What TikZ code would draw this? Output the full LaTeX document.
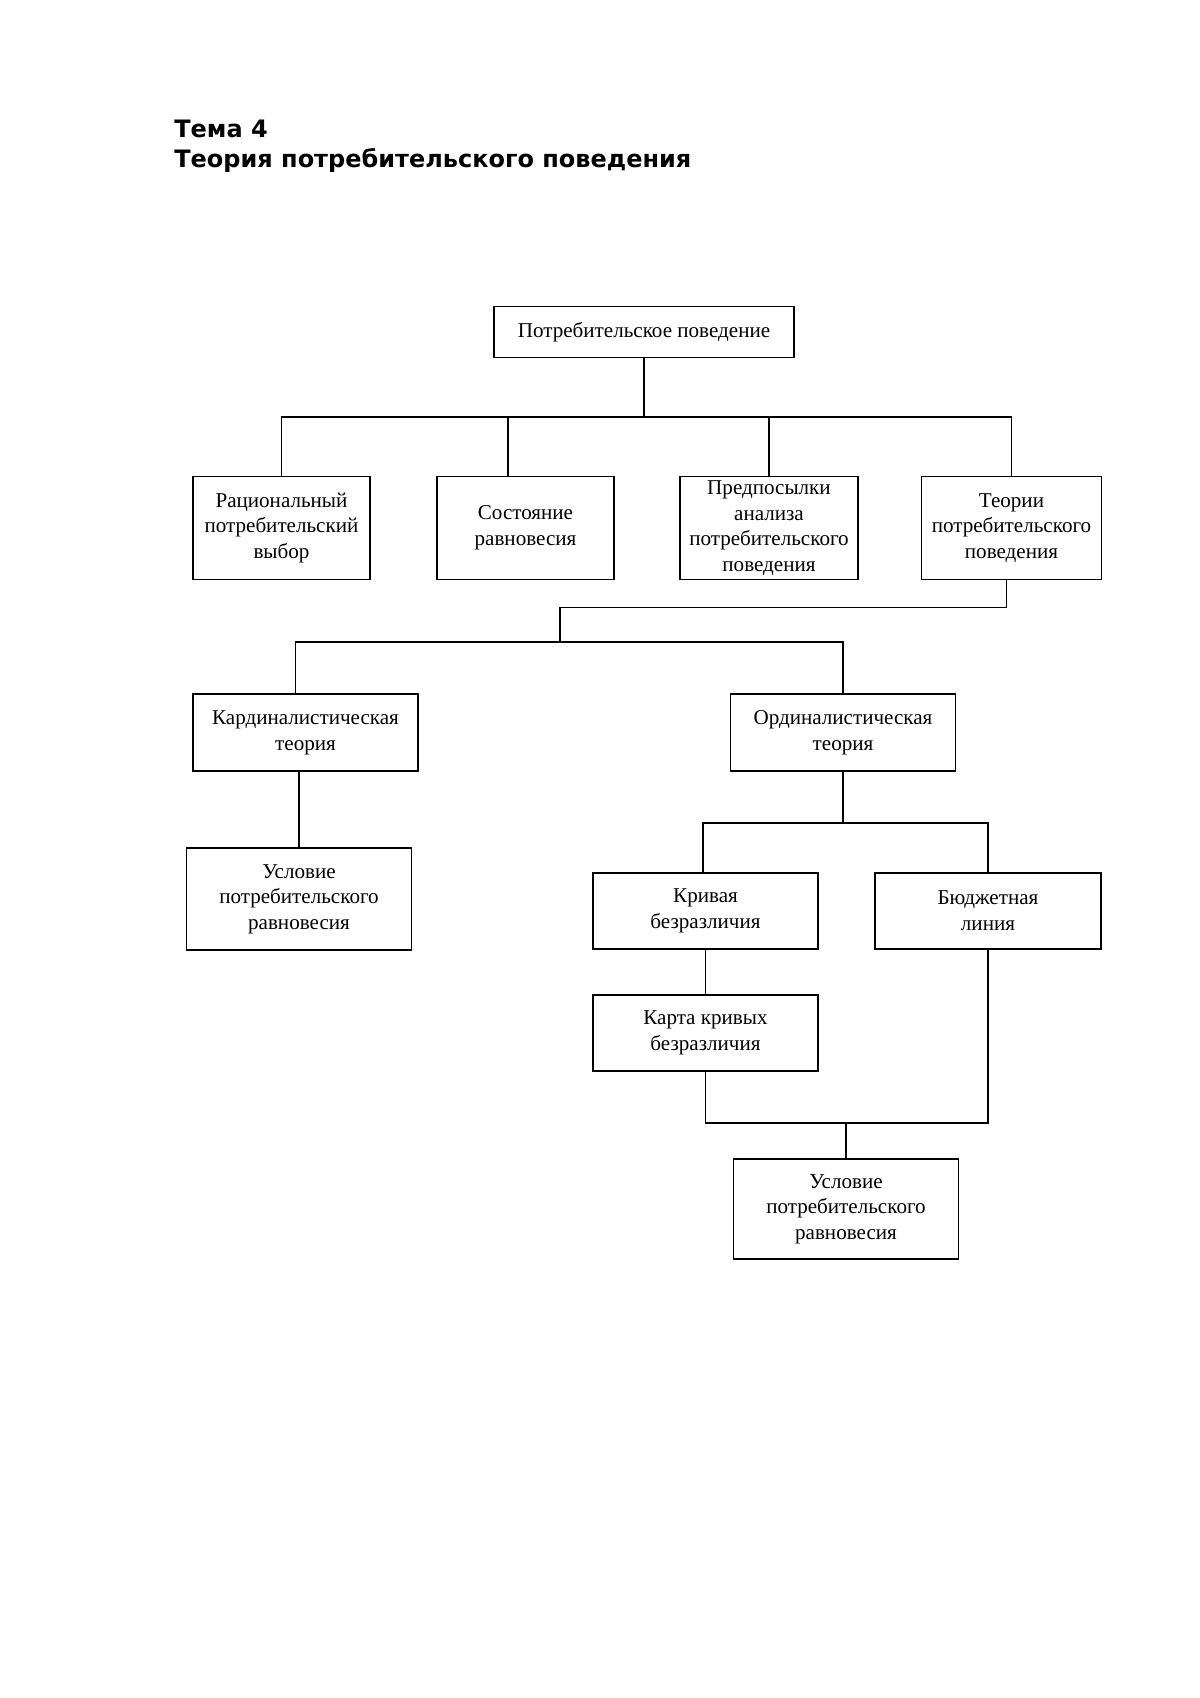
\documentclass[tikz,border=0pt]{standalone}
\usepackage{fontspec}
\setmainfont{Liberation Serif}
\newfontfamily\headfont{DejaVu Sans}
\usetikzlibrary{positioning, calc}

\begin{document}
\begin{tikzpicture}[
    block/.style={rectangle, draw=black, line width=1.1pt, inner sep=1pt, align=center, font=\fontsize{12}{14.6}\selectfont},
    smallblock/.style={block, minimum width=3.55cm, minimum height=2.06cm},
    wideblock/.style={block, minimum width=4.5cm, minimum height=1.52cm},
    link/.style={draw=black, line width=1.1pt},
    headline/.style={anchor=base west, inner sep=0pt, font=\headfont\bfseries\fontsize{13.65}{17}\selectfont}
]
    \useasboundingbox (0,0) rectangle (24,-33.96);

    % --- Heading ---
    \node[headline] (tema) at (3.48,-2.75) {Тема 4};
    \node[headline] (title) at (3.48,-3.34) {Теория потребительского поведения};

    % --- Top level ---
    \node[block, minimum width=6.0cm, minimum height=1.02cm] (root) at (12.88,-6.64) {Потребительское поведение};

    % --- Second row ---
    \node[smallblock] (rational) at (5.63,-10.56) {Рациональный\\потребительский\\выбор};
    \node[smallblock] (balance) at (10.51,-10.56) {Состояние\\равновесия};
    \node[smallblock] (premise) at (15.38,-10.56) {Предпосылки\\анализа\\потребительского\\поведения};
    \node[smallblock, minimum width=3.6cm] (theories) at (20.23,-10.56) {Теории\\потребительского\\поведения};

    % --- Theories ---
    \node[wideblock, minimum height=1.54cm] (cardinal) at (6.11,-14.65) {Кардиналистическая\\теория};
    \node[wideblock, minimum height=1.54cm] (ordinal) at (16.86,-14.65) {Ординалистическая\\теория};
    \node[wideblock, minimum height=2.04cm] (cardeq) at (5.98,-17.98) {Условие\\потребительского\\равновесия};

    % --- Ordinal branch ---
    \node[wideblock] (curve) at (14.11,-18.22) {Кривая\\безразличия};
    \node[wideblock, minimum width=4.53cm] (budget) at (19.76,-18.22) {Бюджетная\\линия};
    \node[wideblock] (curvemap) at (14.11,-20.66) {Карта кривых\\безразличия};
    \node[wideblock, minimum height=2.01cm] (ordeq) at (16.92,-24.18) {Условие\\потребительского\\равновесия};

    % --- Connectors ---
    \coordinate (fork1) at (12.88,-8.34);
    \coordinate (bend) at (11.20,-12.15);
    \coordinate (fork2) at (11.20,-12.84);
    \coordinate (fork3) at (16.92,-16.46);
    \coordinate (fork4) at (16.92,-22.46);

    \draw[link] (root.south) -- (fork1);
    \draw[link] (rational.north) |- (fork1) -| (theories.north);
    \draw[link] ([xshift=-0.35cm]balance.north) -- ([xshift=-0.35cm]balance.north |- fork1);
    \draw[link] (premise.north) -- (premise.north |- fork1);

    \draw[link] ([xshift=-0.1cm]theories.south) |- (bend) -- (fork2);
    \draw[link] ([xshift=-0.2cm]cardinal.north) |- (fork2) -| (ordinal.north);
    \draw[link] (cardeq.north) -- (cardeq.north |- cardinal.south);

    \draw[link] (ordinal.south) -- (ordinal.south |- fork3);
    \draw[link] ([xshift=-0.05cm]curve.north) |- (fork3) -| (budget.north);
    \draw[link] (curve.south) -- (curvemap.north);
    \draw[link] (curvemap.south) |- (fork4) -| (budget.south);
    \draw[link] (fork4) -- (ordeq.north);

\end{tikzpicture}
\end{document}
